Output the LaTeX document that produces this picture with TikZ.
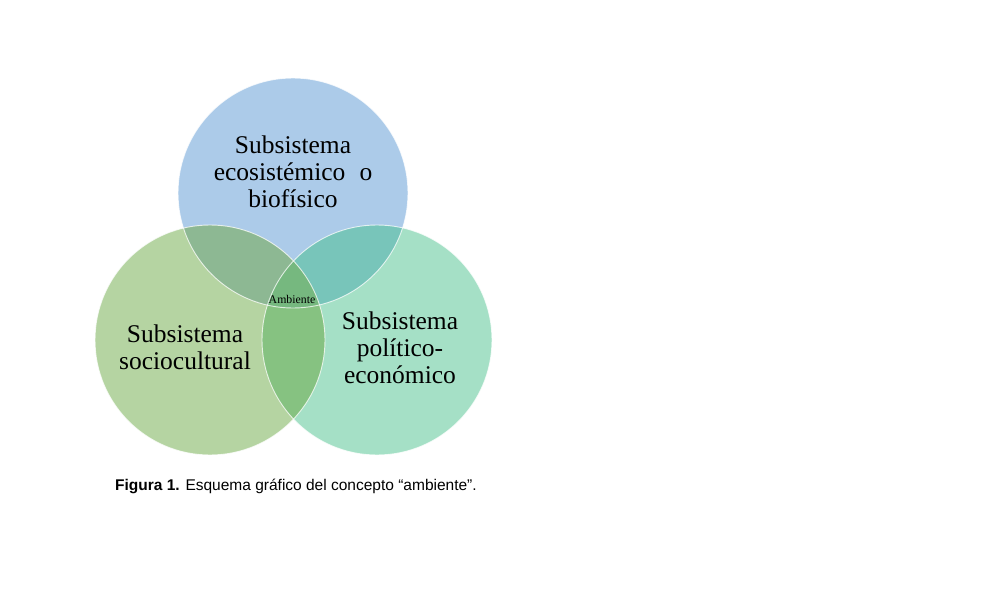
\documentclass[tikz,border=0pt]{standalone}
\usepackage{fontspec}
\setmainfont{Liberation Serif}
\newfontfamily\capfont{Liberation Sans}
\definecolor{cT}{HTML}{ACCBE9}
\definecolor{cL}{HTML}{B5D4A2}
\definecolor{cR}{HTML}{A5E0C6}
\definecolor{cTL}{HTML}{8DB893}
\definecolor{cTR}{HTML}{78C5BA}
\definecolor{cLR}{HTML}{86C281}
\definecolor{cC}{HTML}{76B87F}
\tikzset{
  bigtext/.style={font=\fontsize{25.5}{27}\selectfont, align=center, inner sep=0pt},
  smalltext/.style={font=\fontsize{11.8}{13}\selectfont, inner sep=0pt},
  captext/.style={font=\capfont\fontsize{15.5}{17}\selectfont, inner sep=0pt, anchor=base west},
  rim/.style={draw=white, draw opacity=0.75, line width=0.9pt}
}
\begin{document}
\begin{tikzpicture}[x=1pt,y=-1pt]
\useasboundingbox (0,0) rectangle (982,604);
\def\rad{115}
\coordinate (T) at (293,193);
\coordinate (L) at (210,340);
\coordinate (R) at (377,340);
% single regions
\fill[cT] (T) circle (\rad);
\fill[cR] (R) circle (\rad);
\fill[cL] (L) circle (\rad);
% pairwise overlaps
\begin{scope}
  \clip (T) circle (\rad);
  \fill[cTL] (L) circle (\rad);
  \fill[cTR] (R) circle (\rad);
\end{scope}
\begin{scope}
  \clip (L) circle (\rad);
  \fill[cLR] (R) circle (\rad);
\end{scope}
\begin{scope}
  \clip (T) circle (\rad);
  \clip (L) circle (\rad);
  \fill[cC] (R) circle (\rad);
\end{scope}
% rims
\draw[rim] (T) circle (\rad);
\draw[rim] (R) circle (\rad);
\draw[rim] (L) circle (\rad);
% texts
\node[bigtext] (ttop) at (293,172) {Subsistema\\ecosistémico\hspace{0.3em} o\\biofísico};
\node[bigtext] (tleft) at (185,347) {Subsistema\\sociocultural};
\node[bigtext] (tright) at (400,348) {Subsistema\\político-\\económico};
\node[smalltext] (amb) at (292,299) {Ambiente};
\node[captext] (cap) at (115,490) {\textbf{Figura 1.} Esquema gráfico del concepto “ambiente”.};
\end{tikzpicture}
\end{document}
